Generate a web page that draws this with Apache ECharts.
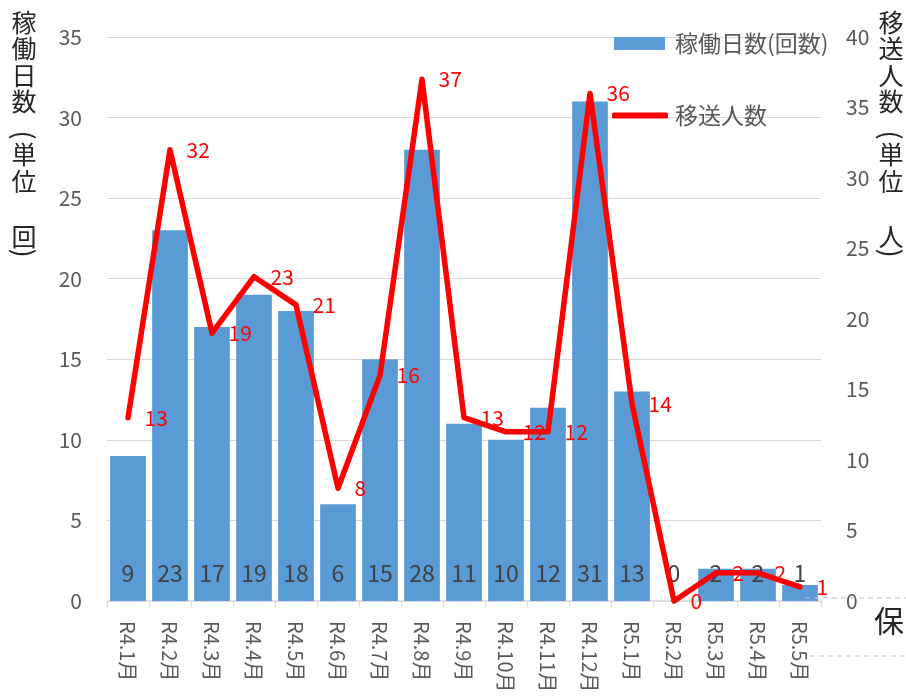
<!DOCTYPE html>
<html>
<head>
<meta charset="utf-8">
<script src="https://cdn.jsdelivr.net/npm/echarts@6/dist/echarts.min.js"></script>
<style>
  html, body { margin: 0; padding: 0; background: #fff; }
  #chart { width: 906px; height: 696px; }
</style>
</head>
<body>
<div id="chart"></div>
<script>
// Monthly operation days and number of people transported
const categories = ['R4.1月', 'R4.2月', 'R4.3月', 'R4.4月', 'R4.5月', 'R4.6月', 'R4.7月', 'R4.8月', 'R4.9月',
  'R4.10月', 'R4.11月', 'R4.12月', 'R5.1月', 'R5.2月', 'R5.3月', 'R5.4月', 'R5.5月'];
const operatingDays = [9, 23, 17, 19, 18, 6, 15, 28, 11, 10, 12, 31, 13, 0, 2, 2, 1];
const transported = [13, 32, 19, 23, 21, 8, 16, 37, 13, 12, 12, 36, 14, 0, 2, 2, 1];

const leftTicks = [0, 35, 5];   // min, max, interval
const rightTicks = [0, 40, 5];

const FONT = '"Noto Sans CJK JP", "Noto Sans", sans-serif';
const GREY = '#595959';

// Vertical axis title: one glyph per row, brackets drawn as turned parentheses
const titleRows = [22, 48, 75, 101, 135, 154, 181, 236, 253];
function verticalTitle(chars, cx, size) {
  return chars.map((c, i) => {
    const isBracket = c === '(' || c === ')';
    return {
      type: 'text',
      x: cx,
      y: titleRows[i],
      rotation: isBracket ? -Math.PI / 2 : 0,
      style: {
        text: c,
        font: (isBracket ? size + 2 : size) + 'px ' + FONT,
        fill: '#262626',
        align: 'center',
        verticalAlign: 'middle'
      }
    };
  });
}

const chart = echarts.init(document.getElementById('chart'), null, { renderer: 'canvas' });

const option = {
  backgroundColor: '#ffffff',
  animation: false,
  grid: { left: 107, right: 85, top: 37, bottom: 95, containLabel: false },
  legend: [
    {
      data: ['稼働日数(回数)'],
      left: 614, top: 32, padding: 0,
      itemWidth: 51, itemHeight: 13, itemGap: 0,
      icon: 'rect',
      textStyle: { color: GREY, fontSize: 23, fontFamily: FONT, padding: [0, 0, 0, 5] },
      selectedMode: false
    },
    {
      data: ['移送人数'],
      left: 612, top: 104, padding: 0,
      itemWidth: 56, itemHeight: 6, itemGap: 0,
      icon: 'roundRect',
      itemStyle: { color: '#ff0000' },
      textStyle: { color: GREY, fontSize: 23, fontFamily: FONT, padding: [0, 0, 0, 2] },
      selectedMode: false
    }
  ],
  xAxis: {
    type: 'category',
    data: categories,
    boundaryGap: true,
    axisLine: { show: true, lineStyle: { color: '#d9d9d9', width: 1.5 } },
    axisTick: { show: true, alignWithLabel: false, length: 6, lineStyle: { color: '#d9d9d9' } },
    axisLabel: {
      rotate: -90, margin: 20, color: GREY, fontSize: 20, fontFamily: FONT, interval: 0
    },
    splitLine: { show: false }
  },
  yAxis: [
    {
      type: 'value',
      min: leftTicks[0], max: leftTicks[1], interval: leftTicks[2],
      axisLine: { show: false },
      axisTick: { show: false },
      axisLabel: { margin: 25, color: GREY, fontSize: 21, fontFamily: FONT },
      splitLine: { show: true, lineStyle: { color: '#d9d9d9', width: 1 } }
    },
    {
      type: 'value',
      min: rightTicks[0], max: rightTicks[1], interval: rightTicks[2],
      position: 'right',
      axisLine: { show: false },
      axisTick: { show: false },
      axisLabel: { margin: 25, color: GREY, fontSize: 21, fontFamily: FONT },
      splitLine: { show: false }
    }
  ],
  series: [
    {
      name: '稼働日数(回数)',
      type: 'bar',
      yAxisIndex: 0,
      data: operatingDays,
      barCategoryGap: '15%',
      itemStyle: { color: '#5b9bd5' },
      label: {
        show: true, position: 'insideBottom', distance: 16,
        color: '#404040', fontSize: 23, fontFamily: FONT
      },
      z: 2
    },
    {
      name: '移送人数',
      type: 'line',
      yAxisIndex: 1,
      data: transported,
      symbol: 'circle', symbolSize: 1,
      showSymbol: true,
      clip: false,
      itemStyle: { color: '#ff0000' },
      lineStyle: { color: '#ff0000', width: 5.5, cap: 'round', join: 'round' },
      label: {
        show: true, position: 'right', distance: 16,
        color: '#ff0000', fontSize: 21, fontFamily: FONT
      },
      z: 3
    }
  ],
  graphic: [
    ...verticalTitle(['稼', '働', '日', '数', '(', '単', '位', '回', ')'], 24, 25),
    ...verticalTitle(['移', '送', '人', '数', '(', '単', '位', '人', ')'], 891, 25),
    // edge of a neighbouring panel on the right
    {
      type: 'line', z: 100,
      shape: { x1: 805, y1: 598, x2: 906, y2: 598 },
      style: { stroke: '#bfbfbf', lineWidth: 1, lineDash: [5, 4] }
    },
    {
      type: 'line', z: 100,
      shape: { x1: 810, y1: 656, x2: 906, y2: 656 },
      style: { stroke: '#bfbfbf', lineWidth: 1, lineDash: [5, 4] }
    },
    {
      type: 'text', left: 874, top: 606, z: 100,
      style: { text: '保', font: '30px ' + FONT, fill: '#262626' }
    }
  ]
};

chart.setOption(option);
</script>
</body>
</html>
